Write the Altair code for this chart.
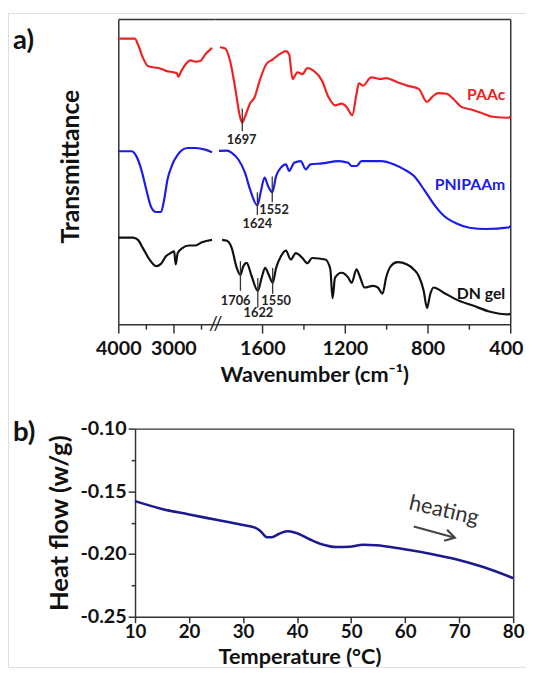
import altair as alt
import pandas as pd

FONT = "Lato"

# ===================== Panel a: FTIR (offset transmittance, a.u.) =====================
# left part of the broken wavenumber axis (4000 - 2300 cm-1)
paac_l_wn = [4000, 3700, 3643, 3554, 3464, 3345, 3255, 3137, 2987, 2940, 2911, 2870, 2780, 2691, 2602, 2512, 2423, 2300]
paac_l_t = [290, 290, 284, 270.7, 262.3, 260.7, 260, 257.3, 255.7, 255, 251.3, 255.7, 264, 268, 266.7, 267.3, 274, 280.7]

pnip_l_wn = [4000, 3762, 3673, 3584, 3495, 3405, 3316, 3227, 3166, 3107, 3030, 2990, 2959, 2870, 2750, 2602, 2423, 2300]
pnip_l_t = [175.7, 175.7, 170.7, 157.3, 137.3, 119, 114, 114, 127.3, 147.3, 160.7, 166, 169, 175.7, 179, 179, 177.3, 174.7]

dn_l_wn = [4000, 3732, 3643, 3554, 3434, 3316, 3227, 3137, 3048, 2987, 2959, 2923, 2839, 2720, 2602, 2482, 2300]
dn_l_t = [88, 88, 85.7, 77.3, 65.7, 59, 61.3, 69, 72.3, 74, 60.7, 72.3, 77.3, 80, 80, 83.3, 85.7]

# right part of the broken axis (1800 - 400 cm-1)
paac_r_wn = [1805, 1780, 1756, 1732, 1708, 1697, 1684, 1660, 1637, 1613, 1581, 1549, 1518, 1486, 1470, 1454,
             1430, 1406, 1382, 1351, 1311, 1280, 1248, 1216, 1192, 1165, 1144, 1133, 1113, 1073, 1025, 1001,
             946, 899, 843, 803, 779, 748, 708, 676, 637, 589, 533, 486, 406, 400]
paac_r_t = [281.3, 280, 267.3, 240.7, 210.7, 204.7, 210.7, 224, 230.7, 247.3, 264, 269, 274, 277.3, 274, 249,
            255.7, 254, 260, 257.3, 247.3, 230.7, 222.3, 224, 220.7, 212.3, 234, 244.7, 242.3, 250.7, 249, 250,
            245.7, 242.3, 239, 225.7, 230.7, 234.7, 234, 229, 220.7, 218, 214, 210.7, 209.7, 211]

pnip_r_wn = [1810, 1771, 1748, 1716, 1684, 1660, 1624, 1608, 1589, 1573, 1552, 1533, 1510, 1486, 1470, 1446,
             1414, 1390, 1367, 1311, 1232, 1184, 1168, 1144, 1120, 1025, 962, 914, 867, 819, 771, 724, 660,
             597, 518, 406, 400]
pnip_r_t = [176, 176.3, 174, 167.3, 154, 137.3, 120.7, 134, 149, 140.7, 134, 150.7, 159, 162.3, 155.7, 164,
            165.7, 157.3, 162.3, 163.3, 165.7, 164, 160.7, 160.7, 165.7, 165.7, 162.3, 157.3, 150.7, 137.3,
            122.3, 110.7, 102.3, 98, 96.7, 98.3, 100]

dn_r_wn = [1795, 1771, 1748, 1724, 1706, 1692, 1676, 1652, 1622, 1601, 1586, 1570, 1550, 1533, 1510, 1486,
           1462, 1438, 1406, 1382, 1359, 1295, 1271, 1260, 1248, 1216, 1184, 1168, 1144, 1129, 1105, 1065,
           1041, 1018, 1001, 978, 946, 899, 867, 843, 819, 803, 787, 771, 724, 660, 581, 502, 406, 400]
dn_r_t = [85.7, 84.7, 77.3, 57.3, 50, 59, 62.3, 49, 34, 49, 57.3, 50.7, 42.3, 57.3, 69, 74.7,
          65.7, 72.3, 67.3, 62, 67.3, 65.7, 56, 26.5, 47.3, 52.3, 47.3, 42, 55.7, 49, 37.3, 39,
          37.3, 31, 47.3, 59, 63, 60.7, 55.7, 49, 34, 16.5, 30.7, 37.3, 32.3, 25, 19, 13, 10, 11]

series_names = ["PAAc", "PNIPAAm", "DN gel"]
series_colors = ["#ee2222", "#1c1ce8", "#111111"]

# peak annotations: position, marker line ends, label
peak_wn = [1697, 1624, 1552, 1706, 1622, 1550]
peak_top = [219, 134, 150, 64, 47, 57]
peak_bot = [196, 111, 124, 34, 17, 31]
peak_label = ["1697", "1624", "1552", "1706", "1622", "1550"]
peak_label_wn = [1700, 1624, 1543, 1729, 1619, 1533]
peak_label_t = [187, 102, 116, 24, 11, 24]

label_wn = [424, 424, 424]
label_t = [232.5, 141, 31]

# ===================== Panel b: DSC =====================
temp_c = [10, 14.8, 19.8, 24.8, 29.7, 32.2, 33.2, 34.4, 35.3, 36.6, 38.1, 39.7, 42.2, 44.7, 47.2, 49.7,
          52.2, 54.6, 59.6, 64.6, 69.6, 74.6, 80]
heat_flow = [-0.1578, -0.1638, -0.1683, -0.1725, -0.1766, -0.1790, -0.1816, -0.1866, -0.1866, -0.1840,
             -0.1819, -0.1830, -0.1880, -0.1924, -0.1944, -0.1942, -0.1926, -0.1930, -0.1960, -0.1997,
             -0.2043, -0.2106, -0.2192]

# ---------------------------------------------------------------------------
W, H = 526, 664

def seg(name, segname, wn, t):
    return pd.DataFrame({"wn": wn, "t": t, "series": name, "seg": segname})

ftir_l = pd.concat([seg("PAAc", "L", paac_l_wn, paac_l_t), seg("PNIPAAm", "L", pnip_l_wn, pnip_l_t),
                    seg("DN gel", "L", dn_l_wn, dn_l_t)], ignore_index=True)
ftir_r = pd.concat([seg("PAAc", "R", paac_r_wn, paac_r_t), seg("PNIPAAm", "R", pnip_r_wn, pnip_r_t),
                    seg("DN gel", "R", dn_r_wn, dn_r_t)], ignore_index=True)
peaks = pd.DataFrame({"wn": peak_wn, "top": peak_top, "bot": peak_bot, "label": peak_label,
                      "lwn": peak_label_wn, "lt": peak_label_t})
labels = pd.DataFrame({"wn": label_wn, "t": label_t, "series": series_names})
dsc = pd.DataFrame({"T": temp_c, "hf": heat_flow})

# scales: each panel occupies its own pixel range inside the single drawing area
xL = alt.Scale(domain=[2250, 4000], range=[210, 112], nice=False, zero=False)
xR = alt.Scale(domain=[400, 1830], range=[510, 210], nice=False, zero=False)
ya = alt.Scale(domain=[0, 310], range=[316, 6], nice=False, zero=False)
xb = alt.Scale(domain=[10, 80], range=[129, 513], nice=False, zero=False)
yb = alt.Scale(domain=[-0.25, -0.10], range=[613, 422], nice=False, zero=False)
cs = alt.Scale(domain=series_names, range=series_colors)

AX = "#333333"
TXT = "#111111"
LAB = dict(labelFont=FONT, labelFontWeight="bold", labelColor=TXT,
           labelOverlap=False, labelBound=False)
TIT = dict(titleFont=FONT, titleFontWeight="bold", titleColor=TXT,
           titleBaseline="alphabetic", titleAlign="center")

def ticks_axis(values, major_mod, offset, **kw):
    return alt.Axis(orient="bottom", offset=offset, values=values, format="d", grid=False,
                    labelExpr=f"datum.value % {major_mod} == 0 ? datum.label : ''",
                    tickSize={"condition": {"test": f"datum.value % {major_mod} == 0", "value": 9}, "value": 5},
                    tickColor=AX, tickWidth=1.5, domainColor=AX, domainWidth=1.5, labelPadding=6,
                    labelFontSize=20, **LAB, **kw)

def edge_axis(orient, offset):
    return alt.Axis(orient=orient, offset=offset, ticks=False, labels=False, grid=False, title=None,
                    domainColor=AX, domainWidth=1.5)

def spectra(df, xs, xaxis, yaxis):
    return alt.Chart(df).mark_line(strokeWidth=2.2, interpolate="monotone").encode(
        x=alt.X("wn:Q", scale=xs, axis=xaxis),
        y=alt.Y("t:Q", scale=ya, axis=yaxis),
        color=alt.Color("series:N", scale=cs, legend=None),
        order=alt.Order("wn:Q", sort="descending"),
    )

def ghost(df, xf, yf, xs, ys, xaxis, yaxis):
    return alt.Chart(df).mark_point(opacity=0, size=1).encode(
        x=alt.X(xf, scale=xs, axis=xaxis), y=alt.Y(yf, scale=ys, axis=yaxis))

# --- panel a layers ---
a_left = spectra(ftir_l, xL,
                 ticks_axis([4000, 3500, 3000, 2500], 1000, 316 - H, title=None, labelFlush=False),
                 alt.Axis(orient="left", offset=-112, ticks=False, labels=False, grid=False,
                          domainColor=AX, domainWidth=1.5, title="Transmittance", titleFontSize=25,
                          titleX=-40, titleY=155.5, **TIT))
a_left_top = ghost(ftir_l, "wn:Q", "t:Q", xL, ya, edge_axis("top", -6), None)
a_right = spectra(ftir_r, xR,
                  ticks_axis([1600, 1400, 1200, 1000, 800, 600, 400], 400, 316 - H,
                             labelFlush=True, labelFlushOffset=13,
                             title="Wavenumber (cm⁻¹)", titleFontSize=22, titleX=311, titleY=58, **TIT),
                  edge_axis("right", 510 - W))
a_right_top = ghost(ftir_r, "wn:Q", "t:Q", xR, ya, edge_axis("top", -6), None)

peak_rules = alt.Chart(peaks).mark_rule(color="#333", strokeWidth=1.3).encode(
    x=alt.X("wn:Q", scale=xR, axis=None),
    y=alt.Y("top:Q", scale=ya, axis=None), y2="bot:Q")
peak_text = alt.Chart(peaks).mark_text(font=FONT, fontSize=13, fontWeight="bold", color="#222",
                                       baseline="middle").encode(
    x=alt.X("lwn:Q", scale=xR, axis=None),
    y=alt.Y("lt:Q", scale=ya, axis=None), text="label:N")
series_text = alt.Chart(labels).mark_text(font=FONT, fontSize=16, fontWeight="bold", align="right",
                                          baseline="middle").encode(
    x=alt.X("wn:Q", scale=xR, axis=None),
    y=alt.Y("t:Q", scale=ya, axis=None), text="series:N",
    color=alt.Color("series:N", scale=cs, legend=None))

notes = pd.DataFrame({"txt": ["a)", "b)", "//"]})
tag_a = alt.Chart(notes).transform_filter(alt.datum.txt == "a)").mark_text(
    font=FONT, fontSize=28, fontWeight="bold", align="left", baseline="middle", color=TXT).encode(
    x=alt.value(5), y=alt.value(28.5), text="txt:N")
tag_b = alt.Chart(notes).transform_filter(alt.datum.txt == "b)").mark_text(
    font=FONT, fontSize=28, fontWeight="bold", align="left", baseline="middle", color=TXT).encode(
    x=alt.value(5), y=alt.value(427), text="txt:N")
break_mark = alt.Chart(notes).transform_filter(alt.datum.txt == "//").mark_text(
    font=FONT, fontSize=20, color="#222", align="center", baseline="middle").encode(
    x=alt.value(211), y=alt.value(316), text="txt:N")

# --- panel b layers ---
bx_axis = alt.Axis(orient="bottom", offset=613 - H, values=[10, 20, 30, 40, 50, 60, 70, 80], format="d",
                   tickSize=6, tickColor=AX, tickWidth=1.5, domainColor=AX, domainWidth=1.5,
                   labelPadding=0, labelFlush=False, labelFontSize=19, grid=False, **LAB,
                   title="Temperature (°C)", titleFontSize=22, titleX=296, titleY=47, **TIT)
by_axis = alt.Axis(orient="left", offset=-129, values=[-0.25, -0.225, -0.2, -0.175, -0.15, -0.125, -0.1],
                   labelExpr="abs(round(datum.value*100)) % 5 == 0 ? '-' + format(abs(datum.value), '.2f') : ''",
                   tickSize={"condition": {"test": "abs(round(datum.value*100)) % 5 == 0", "value": 7}, "value": 4},
                   tickColor=AX, tickWidth=1.5, domainColor=AX, domainWidth=1.5,
                   labelPadding=2, labelFlush=False, labelFontSize=20, grid=False, **LAB,
                   title="Heat flow (w/g)", titleFontSize=26, titleX=-69, titleY=517.5, **TIT)

dsc_line = alt.Chart(dsc).mark_line(color="#1b1b8f", strokeWidth=2.6, interpolate="monotone").encode(
    x=alt.X("T:Q", scale=xb, axis=bx_axis),
    y=alt.Y("hf:Q", scale=yb, axis=by_axis))
dsc_frame = ghost(dsc, "T:Q", "hf:Q", xb, yb, edge_axis("top", -422), edge_axis("right", 513 - W))

heat_note = pd.DataFrame({"T": [67.2], "hf": [-0.1652], "txt": ["heating"]})
arrow = pd.DataFrame({"T": [61.6], "hf": [-0.178], "T2": [69.2], "hf2": [-0.187]})

heat_text = alt.Chart(heat_note).mark_text(font=FONT, fontSize=22, angle=13, color="#333",
                                           baseline="middle", align="center").encode(
    x=alt.X("T:Q", scale=xb, axis=None), y=alt.Y("hf:Q", scale=yb, axis=None), text="txt:N")
arrow_line = alt.Chart(arrow).mark_rule(color="#444", strokeWidth=2.2).encode(
    x=alt.X("T:Q", scale=xb, axis=None), y=alt.Y("hf:Q", scale=yb, axis=None), x2="T2:Q", y2="hf2:Q")
arrow_head = alt.Chart(arrow).mark_point(shape="M-1,-0.6L0,0L-1,0.6", size=380, angle=15, filled=False,
                                         color="#444", strokeWidth=2.2, opacity=1).encode(
    x=alt.X("T2:Q", scale=xb, axis=None), y=alt.Y("hf2:Q", scale=yb, axis=None))

chart = alt.layer(
    a_left, a_left_top, a_right, a_right_top, peak_rules, peak_text, series_text,
    dsc_line, dsc_frame, heat_text, arrow_line, arrow_head,
    tag_a, tag_b, break_mark,
).resolve_scale(x="independent", y="independent").properties(
    width=W, height=H, padding=0, autosize=alt.AutoSizeParams(type="none")
).configure_view(stroke="transparent").configure(font=FONT)

chart.save("out.html", embed_options={"renderer": "svg", "actions": False})
